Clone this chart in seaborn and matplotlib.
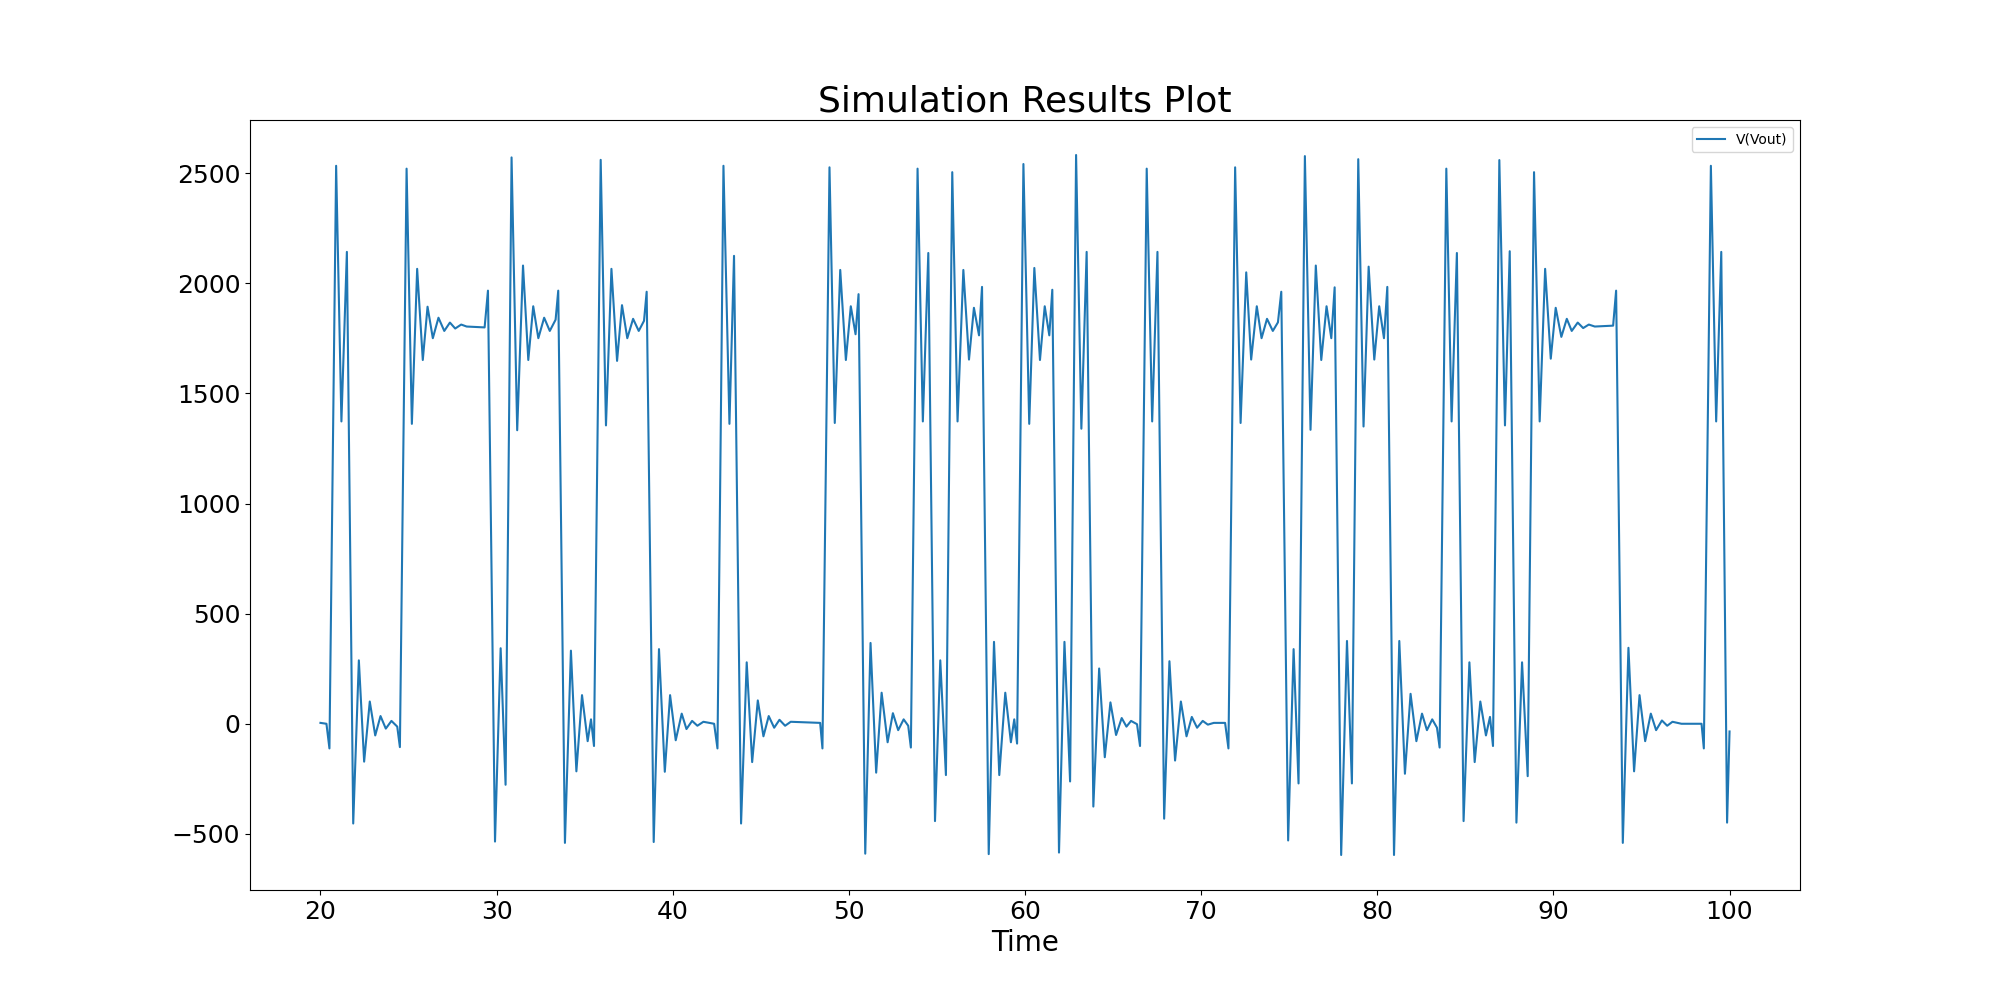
import numpy as np
import pandas as pd
import matplotlib
matplotlib.use("Agg")
import matplotlib.pyplot as plt
import seaborn as sns

# V(Vout), split into 20 s windows (peaks, troughs, plateaus)
t_20_40 = [20.0, 20.34, 20.51, 20.89, 21.19, 21.50, 21.86, 22.18, 22.48, 22.80,
           23.11, 23.41, 23.71, 24.03, 24.36, 24.51, 24.89, 25.19, 25.49, 25.81,
           26.08, 26.38, 26.70, 27.03, 27.35, 27.65, 27.99, 28.30, 29.32, 29.51,
           29.91, 30.23, 30.51, 30.85, 31.17, 31.50, 31.80, 32.08, 32.37, 32.70,
           33.02, 33.35, 33.50, 33.88, 34.22, 34.53, 34.85, 35.17, 35.36, 35.53,
           35.91, 36.21, 36.52, 36.84, 37.12, 37.42, 37.75, 38.07, 38.37, 38.52,
           38.92, 39.22, 39.55, 39.85]
v_20_40 = [4, 0, -112, 2534, 1373, 2143, -453, 288, -172, 101,
           -53, 35, -22, 13, -13, -106, 2521, 1362, 2066, 1652,
           1894, 1751, 1844, 1784, 1822, 1795, 1813, 1804, 1800, 1967,
           -535, 343, -277, 2572, 1333, 2081, 1652, 1896, 1751, 1844,
           1784, 1835, 1967, -541, 332, -216, 130, -79, 20, -101,
           2561, 1355, 2066, 1648, 1901, 1751, 1839, 1784, 1830, 1962,
           -537, 339, -218, 130]

t_40_60 = [40.17, 40.51, 40.78, 41.10, 41.40, 41.74, 42.35, 42.54, 42.88, 43.22,
           43.48, 43.88, 44.20, 44.51, 44.83, 45.15, 45.45, 45.76, 46.06, 46.38,
           46.70, 48.37, 48.50, 48.90, 49.20, 49.51, 49.83, 50.11, 50.38, 50.55,
           50.93, 51.23, 51.55, 51.86, 52.20, 52.50, 52.80, 53.11, 53.37, 53.52,
           53.90, 54.20, 54.51, 54.89, 55.19, 55.51, 55.87, 56.17, 56.50, 56.82,
           57.10, 57.39, 57.56, 57.94, 58.24, 58.54, 58.88, 59.20, 59.39, 59.55,
           59.91]
v_40_60 = [-75, 46, -24, 13, -9, 9, 0, -112, 2534, 1362,
           2125, -453, 279, -174, 106, -57, 35, -18, 18, -9,
           9, 4, -112, 2527, 1366, 2061, 1652, 1896, 1769, 1951,
           -590, 367, -222, 141, -84, 48, -29, 20, -9, -108,
           2521, 1373, 2138, -442, 288, -233, 2505, 1373, 2061, 1654,
           1889, 1764, 1984, -592, 372, -233, 141, -84, 20, -90,
           2542]

t_60_80 = [60.24, 60.53, 60.85, 61.12, 61.38, 61.55, 61.93, 62.24, 62.56, 62.90,
           63.20, 63.50, 63.88, 64.21, 64.53, 64.85, 65.17, 65.49, 65.76, 66.02,
           66.36, 66.53, 66.91, 67.22, 67.52, 67.90, 68.20, 68.52, 68.85, 69.17,
           69.47, 69.77, 70.09, 70.38, 70.72, 71.36, 71.55, 71.93, 72.24, 72.56,
           72.84, 73.16, 73.43, 73.74, 74.07, 74.36, 74.55, 74.94, 75.25, 75.53,
           75.89, 76.21, 76.51, 76.82, 77.12, 77.39, 77.58, 77.95, 78.28, 78.56,
           78.92, 79.22, 79.51, 79.83]
v_60_80 = [1362, 2070, 1652, 1896, 1764, 1971, -585, 372, -262, 2583,
           1340, 2143, -376, 251, -152, 97, -51, 26, -13, 13,
           -2, -101, 2521, 1373, 2143, -431, 284, -167, 101, -57,
           31, -18, 13, -4, 4, 4, -112, 2527, 1366, 2050,
           1654, 1896, 1751, 1839, 1784, 1823, 1962, -530, 339, -271,
           2578, 1335, 2081, 1652, 1896, 1751, 1982, -596, 376, -271,
           2564, 1350, 2076, 1654]

t_80_100 = [80.11, 80.38, 80.57, 80.95, 81.25, 81.57, 81.89, 82.22, 82.54, 82.82,
            83.12, 83.39, 83.54, 83.92, 84.22, 84.52, 84.90, 85.23, 85.53, 85.85,
            86.17, 86.40, 86.57, 86.93, 87.25, 87.52, 87.90, 88.22, 88.54, 88.90,
            89.22, 89.53, 89.85, 90.13, 90.45, 90.76, 91.04, 91.38, 91.69, 92.01,
            92.35, 93.39, 93.56, 93.94, 94.26, 94.58, 94.89, 95.21, 95.53, 95.83,
            96.16, 96.46, 96.76, 97.27, 98.41, 98.54, 98.94, 99.24, 99.53, 99.86,
            100.0]
v_80_100 = [1896, 1751, 1984, -596, 376, -227, 136, -79, 46, -29,
            20, -18, -108, 2521, 1373, 2138, -442, 279, -174, 101,
            -53, 31, -101, 2560, 1355, 2146, -449, 279, -238, 2505,
            1373, 2066, 1658, 1889, 1757, 1839, 1784, 1822, 1797, 1813,
            1804, 1808, 1967, -541, 345, -216, 130, -79, 46, -29,
            15, -9, 9, 0, 0, -112, 2534, 1373, 2143, -449,
            -35]

df = pd.DataFrame({
    "Time": t_20_40 + t_40_60 + t_60_80 + t_80_100,
    "V(Vout)": v_20_40 + v_40_60 + v_60_80 + v_80_100,
})

fig, ax = plt.subplots(figsize=(20, 10), dpi=100)
sns.lineplot(data=df, x="Time", y="V(Vout)", color="#1f77b4", linewidth=1.5,
             label="V(Vout)", ax=ax)

ax.set_title("Simulation Results Plot", fontsize=26)
ax.set_xlabel("Time", fontsize=20)
ax.set_ylabel("")
ax.tick_params(labelsize=18)
ax.legend(loc="upper right")

fig.savefig("out.png", dpi=100)
